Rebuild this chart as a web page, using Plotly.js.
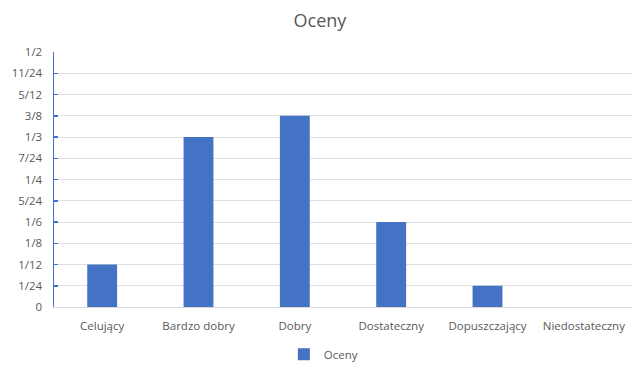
<!DOCTYPE html>
<html>
<head>
<meta charset="utf-8">
<script src="https://cdn.plot.ly/plotly-3.0.1.min.js"></script>
<style>html,body{margin:0;padding:0;background:#fff;}#chart{width:640px;height:372px;}</style>
</head>
<body>
<div id="chart"></div>
<script>
const categories = ["Celujący", "Bardzo dobry", "Dobry", "Dostateczny", "Dopuszczający", "Niedostateczny"];
const valuesIn24ths = [2, 8, 9, 4, 1, 0];
const seriesName = "Oceny";
const tickLabels = ["0", "1/24", "1/12", "1/8", "1/6", "5/24", "1/4", "7/24", "1/3", "3/8", "5/12", "11/24", "1/2"];

const values = valuesIn24ths.map(v => v / 24);
const tickVals = tickLabels.map((_, i) => i / 24);

const font = {family: "Open Sans, Noto Sans, sans-serif", color: "#595959", size: 11.5};

Plotly.newPlot("chart", [{
  type: "bar",
  x: categories,
  y: values,
  name: seriesName,
  marker: {color: "#4472C4"},
  hoverinfo: "x+y"
}], {
  width: 640,
  height: 372,
  margin: {l: 54, r: 8, t: 52, b: 65},
  paper_bgcolor: "#fff",
  plot_bgcolor: "#fff",
  font: font,
  title: {text: "Oceny", font: {family: font.family, size: 18, color: "#595959"}, x: 0.5, xanchor: "center", y: 0.945, yanchor: "middle"},
  bargap: 0.69,
  showlegend: true,
  legend: {orientation: "h", x: 0.466, xanchor: "center", yref: "container", y: 0.048, yanchor: "middle", font: {size: 11.5, color: "#595959"}, itemwidth: 30},
  xaxis: {
    showline: true, linecolor: "#d9d9d9", linewidth: 1,
    ticks: "", tickfont: {size: 11.5, color: "#595959"},
    ticklabelstandoff: 8,
    showgrid: false, fixedrange: true, automargin: false
  },
  yaxis: {
    range: [0, 0.5],
    tickvals: tickVals, ticktext: tickLabels,
    showline: true, linecolor: "#4472C4", linewidth: 1.5,
    ticks: "inside", ticklen: 4, tickcolor: "#4472C4", tickwidth: 1.5,
    gridcolor: "#e0e0e0", gridwidth: 1,
    zeroline: false,
    tickfont: {size: 11.5, color: "#595959"},
    ticklabelstandoff: 8,
    fixedrange: true, automargin: false
  }
}, {displayModeBar: false, staticPlot: true});
</script>
</body>
</html>
